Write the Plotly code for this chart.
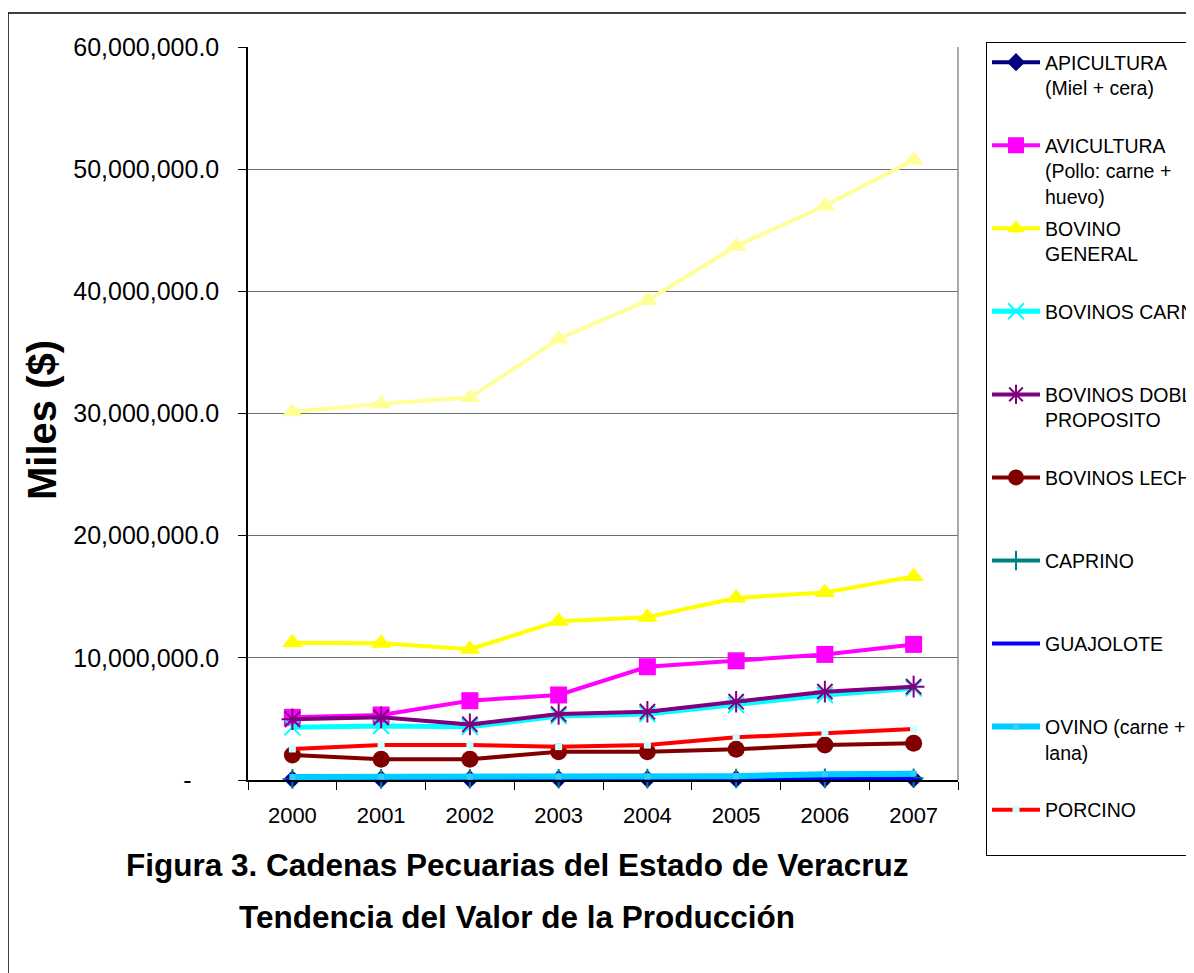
import plotly.graph_objects as go

# ---------------- data ----------------
years = ["2000", "2001", "2002", "2003", "2004", "2005", "2006", "2007"]

apicultura = [60000, 65000, 70000, 75000, 80000, 85000, 95000, 100000]
avicultura = [5130000, 5320000, 6490000, 6960000, 9270000, 9760000, 10280000, 11100000]
bovino_general = [11240000, 11200000, 10700000, 13000000, 13330000, 14900000, 15350000, 16650000]
bovinos_carne = [4310000, 4420000, 4360000, 5240000, 5400000, 6140000, 6960000, 7500000]
bovinos_doble = [4970000, 5130000, 4550000, 5400000, 5590000, 6410000, 7230000, 7640000]
bovinos_leche = [2050000, 1690000, 1690000, 2320000, 2320000, 2510000, 2860000, 3000000]
caprino = [90000, 95000, 100000, 105000, 110000, 120000, 130000, 140000]
guajolote = [50000, 55000, 55000, 60000, 60000, 65000, 70000, 75000]
ovino = [250000, 280000, 270000, 280000, 290000, 310000, 480000, 520000]
porcino = [2540000, 2860000, 2860000, 2730000, 2860000, 3490000, 3820000, 4170000]
total = [30150000, 30800000, 31300000, 36100000, 39250000, 43700000, 47000000, 50750000]

y_tick_values = [0, 10000000, 20000000, 30000000, 40000000, 50000000, 60000000]
y_tick_labels = ["-\u00a0\u00a0\u00a0\u00a0"] + ["{:,.1f}".format(v) for v in y_tick_values[1:]]

FONT = "Liberation Sans, Arial, Helvetica, sans-serif"
SP = "\u00a0"

series = [
    dict(name="APICULTURA<br>(Miel + cera)<br>" + SP, y=apicultura, color="#000080",
         symbol="diamond", size=14, lw=4, mcolor="#000080"),
    dict(name="AVICULTURA<br>(Pollo: carne +<br>huevo)", y=avicultura, color="#FF00FF",
         symbol="square", size=17, lw=4, mcolor="#FF00FF"),
    dict(name="BOVINO<br>GENERAL<br>" + SP, y=bovino_general, color="#FFFF00",
         symbol="triangle-up", size=18, lw=4, mcolor="#FFFF00"),
    dict(name="BOVINOS CARNE<br>" + SP + "<br>" + SP, y=bovinos_carne, color="#00FFFF",
         symbol="x-thin-open", size=16, lw=5, mcolor="#00FFFF"),
    dict(name="BOVINOS DOBLE<br>PROPOSITO<br>" + SP, y=bovinos_doble, color="#800080",
         symbol="asterisk-open", size=18, lw=4, mcolor="#800080"),
    dict(name="BOVINOS LECHE<br>" + SP + "<br>" + SP, y=bovinos_leche, color="#800000",
         symbol="circle", size=17, lw=4, mcolor="#800000"),
    dict(name="CAPRINO<br>" + SP + "<br>" + SP, y=caprino, color="#008080",
         symbol="cross-thin-open", size=14, lw=4, mcolor="#008080"),
    dict(name="GUAJOLOTE<br>" + SP + "<br>" + SP, y=guajolote, color="#0000FF",
         symbol="line-ew-open", size=10, lw=4, mcolor="#0000FF"),
    dict(name="OVINO (carne +<br>lana)<br>" + SP, y=ovino, color="#00CCFF",
         symbol="square", size=6, lw=6, mcolor="#33CCFF"),
    dict(name="PORCINO<br>" + SP, y=porcino, color="#FF0000",
         symbol="square", size=7, lw=4, mcolor="#CCFFFF"),
]

fig = go.Figure()

fig.add_trace(go.Scatter(
    x=years, y=total, mode="lines+markers", name="TOTAL", showlegend=False,
    line=dict(color="#FFFF99", width=4), cliponaxis=False,
    marker=dict(symbol="triangle-up", size=18, color="#FFFF99"),
))

for i, s in enumerate(series):
    mk = dict(symbol=s["symbol"], size=s["size"], color=s["mcolor"])
    if s["symbol"].endswith("-open"):
        mk["line"] = dict(color=s["mcolor"], width=2)
    fig.add_trace(go.Scatter(
        x=years, y=s["y"], mode="lines+markers", name=s["name"],
        legendgroup="g%d" % i, cliponaxis=False,
        line=dict(color=s["color"], width=s["lw"]),
        marker=mk,
    ))

# page has an 8px body margin: figure pixel = page pixel - 8
OFF = 8
W, H = 1194 - OFF, 973 - OFF
L, R, T, B = 248 - OFF, 958 - OFF, 47 - OFF, 780 - OFF
pw, ph = R - L, B - T


def px_x(p):
    return (p - OFF - L) / pw


def px_y(p):
    return (B - (p - OFF)) / ph


fig.update_layout(
    width=W, height=H, autosize=False,
    margin=dict(l=L, r=W - R, t=T, b=H - B, autoexpand=False),
    paper_bgcolor="white", plot_bgcolor="white",
    font=dict(family=FONT, color="black"),
    showlegend=True,
    legend=dict(
        x=px_x(986), y=px_y(42), xanchor="left", yanchor="top",
        bgcolor="white", bordercolor="black", borderwidth=1,
        font=dict(family=FONT, size=19.5, color="black"),
        valign="top", itemwidth=48, tracegroupgap=4, maxheight=950,
    ),
    xaxis=dict(
        type="category", range=[-0.5, 7.5], showgrid=False,
        showline=True, linecolor="black", linewidth=1.5,
        ticks="outside", tickson="boundaries", ticklen=8, tickcolor="black",
        tickfont=dict(family=FONT, size=22, color="black"),
        ticklabelstandoff=15, zeroline=False,
    ),
    yaxis=dict(
        range=[0, 60000000], tickvals=y_tick_values, ticktext=y_tick_labels,
        showgrid=True, gridcolor="#6e6e6e", gridwidth=1.3,
        showline=True, linecolor="black", linewidth=1.5,
        ticks="outside", ticklen=8, tickcolor="black",
        tickfont=dict(family=FONT, size=25, color="black"),
        ticklabelstandoff=14, zeroline=False,
    ),
    shapes=[
        dict(type="line", xref="paper", yref="paper", x0=1, x1=1, y0=0, y1=1,
             line=dict(color="#8c8c8c", width=1.5)),
        dict(type="rect", xref="paper", yref="paper",
             x0=px_x(8), x1=px_x(1300), y0=px_y(1100), y1=px_y(13),
             line=dict(color="black", width=1.5), layer="below"),
    ],
    annotations=[
        dict(text="<b>Miles ($)</b>", xref="paper", yref="paper",
             x=px_x(42), y=px_y(420), textangle=-90, showarrow=False,
             xanchor="center", yanchor="middle",
             font=dict(family=FONT, size=40, color="black")),
        dict(text="<b>Figura 3. Cadenas Pecuarias del Estado de Veracruz</b>",
             xref="paper", yref="paper", x=px_x(517), y=px_y(865),
             xanchor="center", yanchor="middle", showarrow=False,
             font=dict(family=FONT, size=31.5, color="black")),
        dict(text="<b>Tendencia del Valor de la Producción</b>",
             xref="paper", yref="paper", x=px_x(517), y=px_y(917),
             xanchor="center", yanchor="middle", showarrow=False,
             font=dict(family=FONT, size=31.5, color="black")),
    ],
)

fig.write_html("out.html")
